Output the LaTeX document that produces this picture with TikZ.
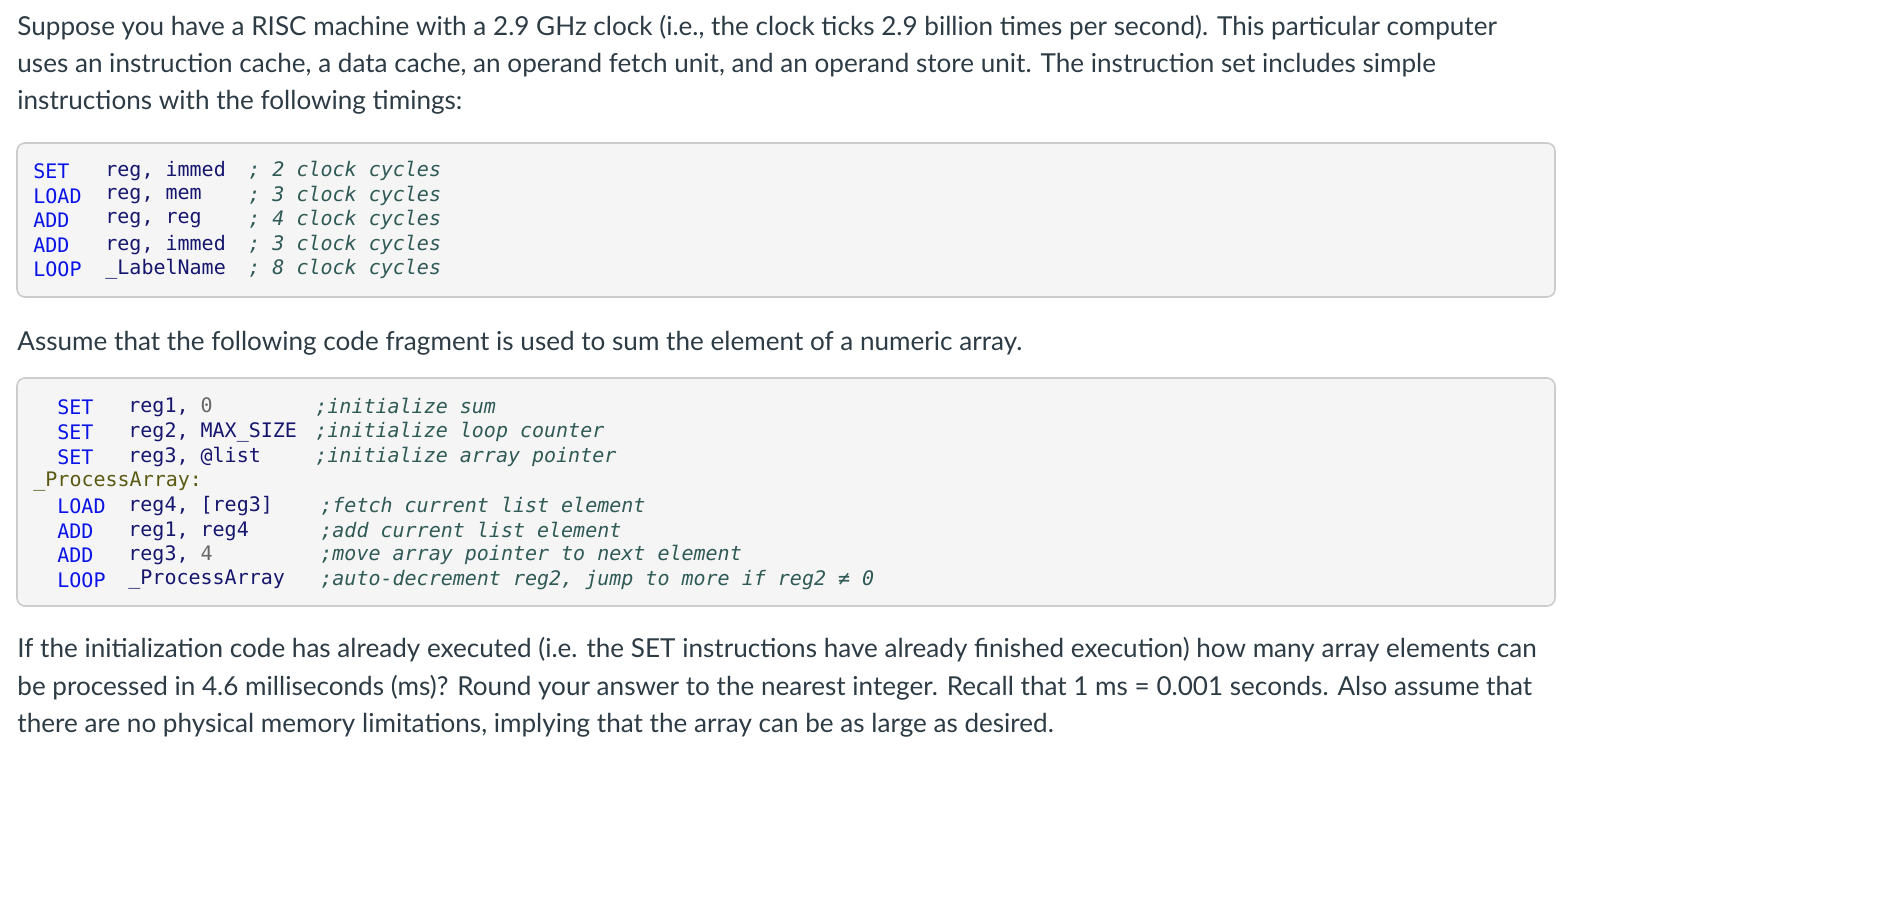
\documentclass[tikz,border=0pt]{standalone}
\usepackage{fontspec}
\setmainfont{Lato}
\setmonofont{DejaVu Sans Mono}
\definecolor{txt}{HTML}{2D3B45}
\definecolor{op}{HTML}{0A14E6}
\definecolor{arg}{HTML}{16166E}
\definecolor{cmt}{HTML}{2F5A55}
\definecolor{lbl}{HTML}{5A5A14}
\definecolor{num}{HTML}{666666}
\tikzset{
 para/.style={anchor=west,inner sep=0,text=txt,font=\fontsize{13.05}{15}\selectfont},
 code/.style={anchor=west,inner sep=0,font=\ttfamily\fontsize{10}{12}\selectfont},
 opc/.style={code,text=op},
 argc/.style={code,text=arg},
 cmtc/.style={code,text=cmt,font=\ttfamily\itshape\fontsize{10}{12}\selectfont},
 box/.style={draw=black!20,fill=black!4,rounded corners=4pt,line width=0.8pt}
}
\begin{document}
\begin{tikzpicture}[x=0.5pt,y=-0.5pt]
\useasboundingbox (0,0) rectangle (1904,918);
\node[para] (p1) at (17,28) {Suppose you have a RISC machine with a 2.9 GHz clock (i.e., the clock ticks 2.9 billion times per second). This particular computer};
\node[para] (p2) at (17,65) {uses an instruction cache, a data cache, an operand fetch unit, and an operand store unit. The instruction set includes simple};
\node[para] (p3) at (17,102) {instructions with the following timings:};
\draw[box] (17,143) rectangle (1555,297);
\foreach \y/\o/\a/\c [count=\i] in {171/SET/{reg, immed}/{; 2 clock cycles},196/LOAD/{reg, mem}/{; 3 clock cycles},220/ADD/{reg, reg}/{; 4 clock cycles},245/ADD/{reg, immed}/{; 3 clock cycles},269/LOOP/{\_LabelName}/{; 8 clock cycles}}{
 \node[opc] (ao\i) at (33,\y) {\o};
 \node[argc] (aa\i) at (105,\y) {\a};
 \node[cmtc] (ac\i) at (248,\y) {\c};
}
\node[para] (p4) at (17,343) {Assume that the following code fragment is used to sum the element of a numeric array.};
\draw[box] (17,378) rectangle (1555,606);
\foreach \y/\o/\a/\c [count=\i] in {407/SET/{reg1, \textcolor{num}{0}}/{;initialize sum},432/SET/{reg2, MAX\_SIZE}/{;initialize loop counter},457/SET/{reg3, @list}/{;initialize array pointer}}{
 \node[opc] (bo\i) at (57,\y) {\o};
 \node[argc] (ba\i) at (128,\y) {\a};
 \node[cmtc] (bc\i) at (315,\y) {\c};
}
\node[code,text=lbl] (lb) at (33,482) {\_ProcessArray:};
\foreach \y/\o/\a/\c [count=\i] in {506/LOAD/{reg4, [reg3]}/{;fetch current list element},531/ADD/{reg1, reg4}/{;add current list element},555/ADD/{reg3, \textcolor{num}{4}}/{;move array pointer to next element},580/LOOP/{\_ProcessArray}/{;auto-decrement reg2, jump to more if reg2 ≠ 0}}{
 \node[opc] (co\i) at (57,\y) {\o};
 \node[argc] (ca\i) at (128,\y) {\a};
 \node[cmtc] (cc\i) at (320,\y) {\c};
}
\node[para] (p5) at (17,650) {If the initialization code has already executed (i.e. the SET instructions have already finished execution) how many array elements can};
\node[para] (p6) at (17,688) {be processed in 4.6 milliseconds (ms)? Round your answer to the nearest integer. Recall that 1 ms = 0.001 seconds. Also assume that};
\node[para] (p7) at (17,725) {there are no physical memory limitations, implying that the array can be as large as desired.};
\end{tikzpicture}
\end{document}
